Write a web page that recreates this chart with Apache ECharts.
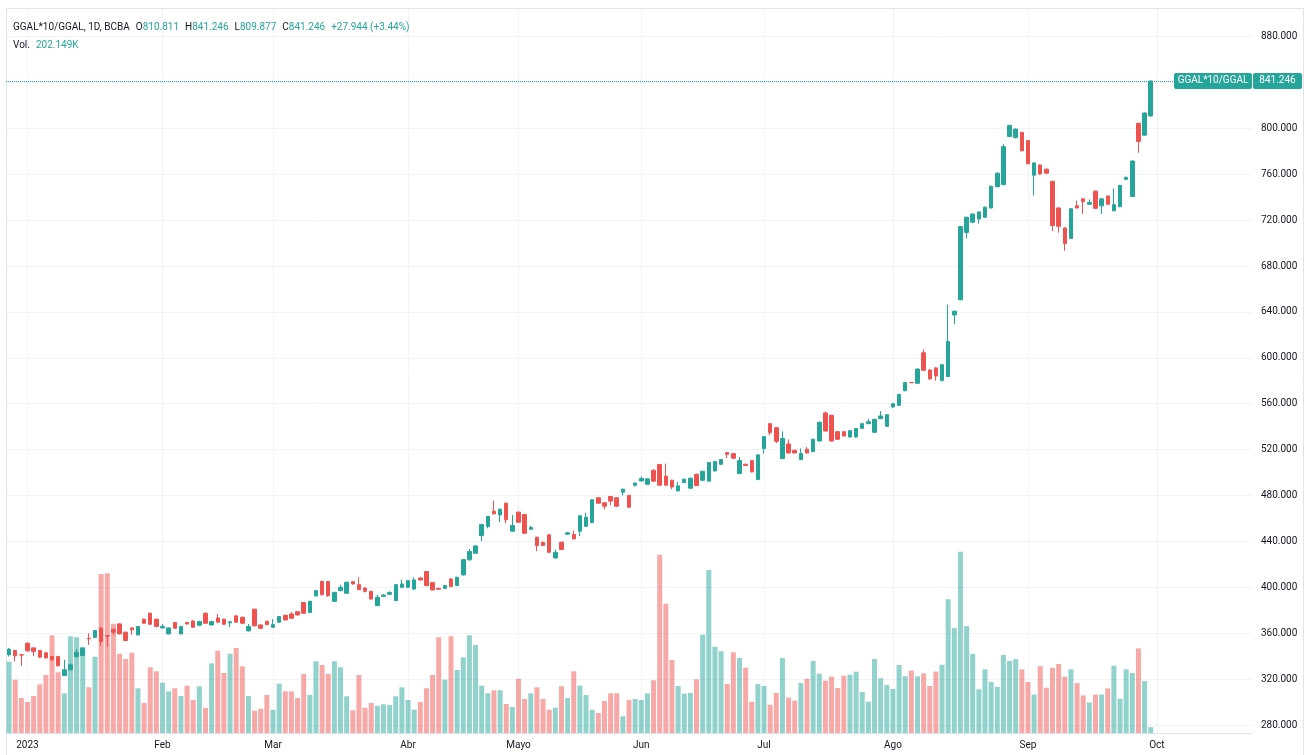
<!DOCTYPE html>
<html>
<head>
<meta charset="utf-8">
<title>GGAL*10/GGAL, 1D, BCBA</title>
<script src="https://cdn.jsdelivr.net/npm/echarts@6/dist/echarts.min.js"></script>
<style>
  html, body { margin: 0; padding: 0; background: #ffffff; }
  #chart { width: 1312px; height: 755px; }
</style>
</head>
<body>
<div id="chart"></div>
<script>
// ruedas BCBA: 28/12/2022 -> 29/09/2023 (+ huecos a futuro para el margen derecho)
const firstDay = '2022-12-28';
const slotCount = 203;
const holidays = ['2023-02-20', '2023-02-21', '2023-03-24', '2023-04-06', '2023-04-07',
  '2023-05-01', '2023-05-25', '2023-05-26', '2023-06-19', '2023-06-20', '2023-08-21', '2023-10-13'];
const monthNames = ['2023', 'Feb', 'Mar', 'Abr', 'Mayo', 'Jun', 'Jul', 'Ago', 'Sep', 'Oct', 'Nov', 'Dic'];

const opens = [
  341.2, 344.9, 341.2, 351.3, 347.2, 344.9, 342.9, 339.7, 339.7, 323.2,
  328.1, 339.7, 340.6, 355.6, 356.2, 364.3, 357.9, 363.5, 368.1, 360.9,
  364.6, 358.5, 372.2, 377.4, 372.2, 364.6, 359.4, 369.3, 359.4, 369.3,
  370.7, 367.0, 377.4, 367.2, 373.3, 372.2, 369.0, 375.1, 373.9, 362.0,
  380.9, 367.2, 370.4, 365.2, 369.6, 375.6, 376.8, 378.8, 386.7, 378.0,
  392.5, 405.2, 405.0, 387.8, 397.1, 394.8, 404.9, 402.3, 399.4, 396.5,
  384.0, 392.1, 393.9, 388.4, 400.0, 400.0, 398.5, 408.1, 413.7, 404.1,
  399.1, 399.1, 407.3, 401.5, 410.8, 423.9, 429.7, 445.1, 452.9, 466.3,
  463.1, 473.3, 448.9, 465.5, 463.4, 450.6, 443.6, 439.3, 445.7, 425.6,
  439.3, 446.3, 446.0, 448.9, 453.2, 456.4, 478.0, 473.6, 479.1, 478.0,
  482.9, 480.0, 489.0, 492.7, 489.8, 502.0, 507.0, 496.8, 493.3, 484.0,
  491.3, 486.4, 498.5, 493.3, 492.5, 501.4, 507.2, 517.4, 516.5, 499.1,
  507.2, 510.4, 493.9, 520.9, 542.6, 539.1, 512.2, 524.9, 519.4, 511.3,
  520.3, 518.3, 527.5, 551.9, 549.9, 535.6, 535.6, 531.0, 531.0, 538.5,
  542.6, 535.1, 547.0, 540.3, 557.1, 558.6, 571.3, 578.5, 577.8, 604.4,
  589.4, 591.2, 580.2, 583.7, 637.4, 650.6, 709.3, 718.2, 721.0, 722.5,
  730.6, 749.1, 750.9, 792.9, 791.8, 796.4, 789.3, 759.1, 768.0, 764.4,
  753.8, 730.6, 713.2, 704.0, 732.4, 738.5, 733.8, 745.2, 732.4, 741.0,
  728.1, 731.7, 755.5, 740.6, 804.3, 794.0, 810.811
];
const closes = [
  346.1, 340.3, 340.9, 344.6, 344.0, 339.1, 338.5, 336.8, 331.6, 328.1,
  332.5, 343.2, 346.9, 355.2, 362.3, 352.7, 357.5, 360.9, 359.4, 353.6,
  362.9, 365.8, 368.7, 367.8, 365.8, 365.8, 364.6, 364.3, 365.8, 368.1,
  365.2, 370.1, 368.7, 370.1, 369.6, 367.8, 369.9, 369.6, 368.7, 365.8,
  366.4, 364.3, 367.5, 367.5, 374.5, 371.6, 373.0, 375.9, 377.4, 387.8,
  397.1, 393.5, 392.6, 395.6, 400.0, 404.4, 402.9, 398.0, 396.5, 389.8,
  391.3, 393.3, 395.4, 402.3, 402.9, 405.8, 406.4, 406.4, 401.5, 397.7,
  398.3, 401.5, 400.6, 408.7, 424.1, 431.1, 436.1, 454.7, 461.7, 464.0,
  468.1, 458.8, 453.8, 456.7, 447.1, 452.1, 436.4, 436.4, 430.5, 430.5,
  432.9, 447.5, 442.2, 462.3, 461.1, 476.2, 473.3, 470.7, 475.1, 470.7,
  485.5, 469.8, 490.8, 494.8, 494.5, 492.5, 489.0, 489.0, 487.5, 488.4,
  494.2, 495.1, 488.7, 501.1, 508.7, 509.6, 511.3, 515.9, 512.5, 510.4,
  506.1, 500.6, 515.4, 531.3, 534.8, 527.2, 529.6, 517.1, 517.1, 516.5,
  517.1, 529.0, 543.8, 536.2, 527.5, 529.0, 531.9, 536.5, 538.3, 542.6,
  544.3, 546.4, 549.3, 550.4, 560.0, 568.1, 578.4, 578.3, 590.2, 589.1,
  581.6, 584.1, 594.0, 614.3, 640.6, 714.3, 722.5, 725.3, 727.1, 731.3,
  749.5, 760.9, 784.0, 802.5, 799.3, 780.4, 769.1, 769.8, 760.2, 760.9,
  715.3, 714.6, 699.7, 729.9, 730.6, 736.0, 735.3, 730.3, 738.5, 733.8,
  733.5, 750.2, 757.3, 771.5, 788.6, 813.302, 841.246
];
const lows = [
  339.7, 335.4, 331.6, 344.0, 340.3, 338.6, 337.8, 335.9, 331.0, 322.8,
  327.6, 338.3, 340.2, 349.8, 355.8, 349.0, 348.4, 358.5, 358.9, 353.1,
  358.5, 358.0, 368.2, 367.3, 365.3, 364.1, 358.9, 363.8, 358.9, 367.6,
  364.7, 366.0, 368.2, 366.7, 369.1, 367.3, 365.2, 369.1, 368.2, 361.5,
  365.9, 363.8, 367.0, 364.7, 369.1, 371.1, 372.5, 375.4, 376.9, 377.5,
  392.0, 393.0, 391.6, 387.3, 396.6, 394.3, 402.4, 397.5, 395.5, 389.3,
  383.5, 391.6, 393.4, 387.9, 399.5, 399.5, 397.5, 405.9, 401.0, 397.2,
  397.8, 398.6, 400.1, 401.0, 410.3, 423.4, 429.2, 440.2, 451.4, 463.5,
  456.7, 455.9, 448.4, 456.2, 446.6, 450.1, 431.4, 435.9, 430.0, 425.1,
  432.4, 445.8, 441.7, 444.5, 452.7, 455.9, 472.8, 467.8, 471.7, 470.2,
  480.0, 469.3, 487.8, 492.2, 489.3, 492.0, 488.5, 488.5, 485.5, 483.5,
  490.8, 485.9, 488.2, 492.8, 492.0, 500.9, 506.7, 512.5, 512.0, 498.6,
  505.6, 500.1, 493.4, 516.5, 532.5, 525.7, 511.7, 516.6, 516.6, 510.8,
  516.6, 517.8, 527.0, 535.7, 527.0, 528.5, 531.4, 530.5, 530.5, 538.0,
  542.1, 534.6, 546.5, 539.8, 556.6, 558.1, 570.8, 578.3, 577.3, 588.6,
  581.1, 580.0, 579.5, 583.2, 629.3, 650.1, 704.0, 717.7, 717.0, 722.0,
  730.1, 748.6, 750.4, 792.4, 791.3, 779.9, 768.6, 741.3, 759.7, 760.4,
  710.3, 709.0, 693.3, 703.5, 730.1, 725.4, 733.3, 729.8, 725.4, 733.3,
  727.6, 731.2, 755.0, 740.1, 778.7, 793.5, 809.877
];
const highs = [
  347.2, 345.5, 341.5, 352.0, 347.8, 345.4, 343.8, 340.2, 340.2, 336.8,
  333.9, 346.1, 347.3, 360.0, 362.9, 365.8, 358.2, 364.0, 368.6, 361.4,
  365.1, 366.3, 372.7, 377.9, 372.7, 368.1, 365.1, 369.8, 366.3, 369.8,
  371.2, 370.9, 377.9, 370.6, 376.8, 372.7, 370.4, 375.6, 374.4, 368.1,
  381.4, 367.7, 370.9, 372.2, 375.0, 376.1, 378.5, 379.3, 387.2, 388.3,
  397.6, 405.7, 405.5, 396.1, 402.3, 404.9, 405.4, 408.7, 399.9, 397.0,
  393.6, 393.8, 396.5, 402.8, 406.7, 406.3, 408.7, 408.6, 414.2, 404.6,
  399.6, 402.0, 407.8, 409.2, 424.6, 433.4, 436.6, 455.2, 462.2, 475.6,
  468.6, 473.8, 463.1, 466.0, 463.9, 453.8, 444.1, 439.8, 446.2, 432.9,
  439.8, 448.0, 449.5, 462.8, 465.0, 476.7, 478.5, 474.1, 479.6, 478.5,
  486.0, 480.5, 491.3, 496.8, 495.0, 502.8, 507.5, 507.8, 493.8, 491.9,
  494.7, 495.6, 499.0, 501.6, 509.2, 510.1, 511.8, 517.9, 517.0, 513.6,
  507.7, 510.9, 515.9, 531.8, 543.1, 539.6, 535.9, 528.7, 519.9, 521.0,
  522.3, 529.5, 544.3, 553.3, 550.4, 536.1, 536.1, 537.0, 538.8, 543.1,
  546.9, 546.9, 553.6, 550.9, 560.5, 568.6, 578.9, 578.5, 590.7, 607.2,
  589.9, 591.7, 594.5, 646.3, 641.1, 714.8, 723.0, 725.8, 727.6, 731.8,
  750.0, 761.4, 786.4, 803.0, 799.8, 796.9, 789.8, 770.3, 768.5, 764.9,
  754.3, 731.1, 713.7, 730.4, 737.1, 739.0, 738.0, 745.7, 739.0, 741.5,
  747.7, 750.7, 757.8, 772.0, 804.8, 813.8, 841.246
];
// volumen en miles
const volumes = [
  2495, 1866, 1225, 1085, 1295, 1705, 2030, 3420, 2125, 1390,
  3385, 3350, 3010, 1600, 2670, 5565, 5590, 3825, 2775, 2590,
  2810, 1565, 1050, 2300, 2160, 1760, 1460, 1565, 1295, 1655,
  1155, 1635, 875, 2440, 2880, 2100, 2775, 2975, 2335, 1295,
  780, 850, 1330, 815, 1725, 1460, 1460, 1225, 2065, 1330,
  2510, 2380, 2065, 2510, 2300, 1285, 795, 2030, 885, 1050,
  945, 1005, 980, 1285, 1600, 1155, 815, 1085, 1565, 2030,
  3350, 1865, 3385, 2205, 2650, 3420, 3080, 1655, 1390, 1495,
  1495, 1015, 910, 1900, 1190, 1390, 1600, 1190, 815, 885,
  1635, 1225, 2160, 1655, 1330, 815, 700, 1120, 1390, 1390,
  585, 1155, 1190, 1155, 1385, 1845, 6240, 4525, 2555, 1645,
  1375, 1400, 1880, 3440, 5705, 3020, 2860, 1715, 2825, 2625,
  2285, 1095, 1715, 1645, 990, 1400, 2625, 1235, 1130, 1750,
  1900, 2520, 2075, 1830, 1970, 1575, 2005, 2040, 2145, 1435,
  1095, 2590, 1915, 1680, 1540, 2380, 1985, 2185, 1985, 2085,
  1645, 2150, 2385, 4685, 3670, 6340, 3740, 2770, 1530, 2230,
  1785, 1615, 2730, 2525, 2585, 2230, 1785, 1345, 2340, 1585,
  2285, 2415, 1970, 2230, 1745, 1315, 1070, 1345, 1345, 1560,
  2355, 1200, 2230, 2100, 2960, 1815, 202.149
];

const UP = '#26a69a';
const DOWN = '#ef5350';
const UP_VOL = 'rgba(38,166,154,0.5)';
const DOWN_VOL = 'rgba(239,83,80,0.5)';
const TEXT = '#131722';
const GRID_LINE = '#f0f3fa';
const FONT = 'Roboto, "Liberation Sans", sans-serif';
const FS = 10;

// calendario de ruedas
const categories = [];
let day = new Date(firstDay + 'T00:00:00Z');
while (categories.length < slotCount) {
  const s = day.toISOString().slice(0, 10);
  const wd = day.getUTCDay();
  if (wd !== 0 && wd !== 6 && holidays.indexOf(s) < 0) categories.push(s);
  day.setUTCDate(day.getUTCDate() + 1);
}
const isMonthStart = (i) => i > 0 && categories[i].slice(5, 7) !== categories[i - 1].slice(5, 7);
const monthLabel = (i) => monthNames[parseInt(categories[i].slice(5, 7), 10) - 1];

const candles = opens.map((o, i) => [o, closes[i], lows[i], highs[i]]);
const volBars = volumes.map((v, i) => ({
  value: v,
  itemStyle: { color: closes[i] >= opens[i] ? UP_VOL : DOWN_VOL }
}));

const n = opens.length;
const lastClose = closes[n - 1];
const chg = lastClose - closes[n - 2];
const pct = chg / closes[n - 2] * 100;
const fmt = (v) => v.toFixed(3);

// escala de precios: 40 por linea, 45.9 px por linea
const pxPerUnit = 45.9 / 40;
const y280 = 725;
const priceMin = 240, priceMax = 920;
const priceTop = y280 - (priceMax - 280) * pxPerUnit;
const priceBottom = 755 - (y280 + (280 - priceMin) * pxPerUnit);

const rich = {
  n: { color: TEXT, fontSize: FS, fontWeight: 'normal', fontFamily: FONT },
  v: { color: UP, fontSize: FS, fontWeight: 'normal', fontFamily: FONT },
  s: { width: 6 }
};
const gap = '{s| }';

const option = {
  animation: false,
  backgroundColor: '#ffffff',
  textStyle: { fontFamily: FONT },
  title: [
    {
      left: 13, top: 18, padding: 0,
      text: '{n|GGAL*10/GGAL, 1D, BCBA}' + gap + '{n|O}{v|' + fmt(opens[n - 1]) + '}' + gap +
        '{n|H}{v|' + fmt(highs[n - 1]) + '}' + gap + '{n|L}{v|' + fmt(lows[n - 1]) + '}' + gap +
        '{n|C}{v|' + fmt(lastClose) + '}' + gap + '{v|+' + fmt(chg) + ' (+' + pct.toFixed(2) + '%)}',
      textStyle: { fontWeight: 'normal', rich: rich }
    },
    {
      left: 13, top: 36, padding: 0,
      text: '{n|Vol.}' + gap + '{v|' + volumes[n - 1].toFixed(3) + 'K}',
      textStyle: { fontWeight: 'normal', rich: rich }
    }
  ],
  grid: [
    { left: 6, right: 60, top: priceTop, bottom: priceBottom, containLabel: false, outerBoundsMode: 'none' },
    { left: 6, right: 60, top: 8, bottom: 22, containLabel: false, outerBoundsMode: 'none' }
  ],
  xAxis: [
    {
      type: 'category', gridIndex: 0, data: categories, boundaryGap: true,
      show: false
    },
    {
      type: 'category', gridIndex: 1, data: categories, boundaryGap: true,
      axisLine: { show: true, lineStyle: { color: '#e0e3eb' } },
      axisTick: { show: false },
      axisLabel: {
        interval: (i) => isMonthStart(i),
        formatter: (v, i) => monthLabel(i),
        color: TEXT, fontSize: FS, margin: 7, fontFamily: FONT
      },
      splitLine: {
        show: true, interval: (i) => isMonthStart(i), alignWithLabel: true,
        lineStyle: { color: GRID_LINE, width: 1 }
      }
    }
  ],
  yAxis: [
    {
      type: 'value', gridIndex: 0, position: 'right',
      min: priceMin, max: priceMax, interval: 40,
      axisLine: { show: false }, axisTick: { show: false },
      axisLabel: { color: TEXT, fontSize: FS, margin: 9, formatter: (v) => v.toFixed(3), fontFamily: FONT },
      splitLine: { show: true, lineStyle: { color: GRID_LINE, width: 1 } }
    },
    {
      type: 'value', gridIndex: 1, position: 'right',
      min: 0, max: 25375,
      show: false, splitLine: { show: false }
    }
  ],
  series: [
    {
      name: 'Vol', type: 'bar', xAxisIndex: 1, yAxisIndex: 1,
      data: volBars, barWidth: 5, z: 1
    },
    {
      name: 'GGAL*10/GGAL', type: 'candlestick', xAxisIndex: 0, yAxisIndex: 0,
      data: candles, barWidth: 4, z: 3,
      itemStyle: { color: UP, color0: DOWN, borderColor: UP, borderColor0: DOWN, borderWidth: 1 },
      markLine: {
        silent: true, symbol: 'none',
        label: { show: false },
        lineStyle: { color: UP, type: 'dotted', width: 1 },
        data: [{ yAxis: lastClose }]
      }
    }
  ]
};

const chart = echarts.init(document.getElementById('chart'));
chart.setOption(option);

// etiqueta del ultimo precio sobre el eje
const yLast = chart.convertToPixel({ yAxisIndex: 0 }, lastClose);
chart.setOption({
  graphic: [
    { type: 'rect', shape: { x: 6.5, y: 8.5, width: 1297, height: 760 }, style: { fill: 'none', stroke: '#e0e3eb', lineWidth: 1 }, silent: true },
    { type: 'rect', shape: { x: 1174, y: yLast - 8, width: 78, height: 16, r: 2 }, style: { fill: UP }, z: 10 },
    { type: 'text', x: 1213, y: yLast, style: { text: 'GGAL*10/GGAL', fill: '#ffffff', font: FS + 'px ' + FONT, align: 'center', verticalAlign: 'middle' }, z: 11 },
    { type: 'rect', shape: { x: 1253, y: yLast - 8, width: 49, height: 16, r: 2 }, style: { fill: UP }, z: 10 },
    { type: 'text', x: 1277.5, y: yLast, style: { text: fmt(lastClose), fill: '#ffffff', font: FS + 'px ' + FONT, align: 'center', verticalAlign: 'middle' }, z: 11 }
  ]
});
</script>
</body>
</html>
